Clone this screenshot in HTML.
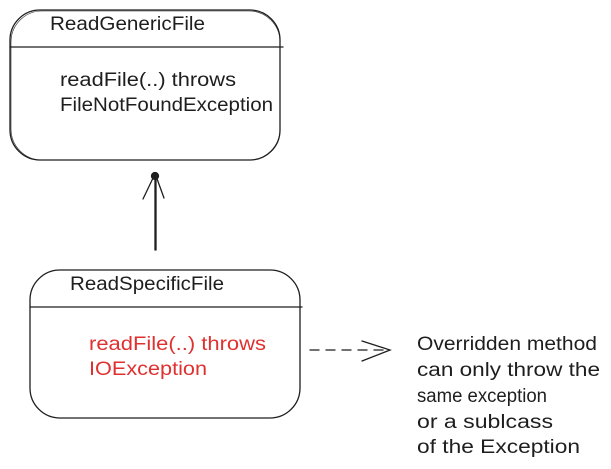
<!DOCTYPE html>
<html><head><meta charset="utf-8"><style>
html,body{margin:0;padding:0;background:#fff;width:611px;height:469px;overflow:hidden}
text{font-family:"Liberation Sans",sans-serif;font-size:19px;fill:#1e1e1e}
</style></head><body>
<svg width="611" height="469" viewBox="0 0 611 469" xmlns="http://www.w3.org/2000/svg">
<g fill="none" stroke="#1e1e1e" stroke-width="1.3" stroke-linecap="round">
<rect x="10" y="10" width="270" height="150" rx="30"/>
<rect x="11" y="11" width="269" height="149" rx="31" stroke-width="0.6"/>
<line x1="10" y1="47" x2="283" y2="47"/>
<rect x="30" y="270" width="270" height="148" rx="30"/>
<line x1="30" y1="307" x2="302" y2="307"/>
<line x1="155" y1="250" x2="155" y2="176"/>
<line x1="156" y1="250" x2="156" y2="176"/>
<path d="M143 199 L154 176 M164 198 L156 176"/>
<circle cx="155" cy="176" r="3.5" fill="#1e1e1e"/>
<line x1="310" y1="350" x2="388" y2="350" stroke-dasharray="9 7"/>
<path d="M362 341 L390 350 L362 361"/>
</g>
<text x="50" y="30" textLength="155" lengthAdjust="spacingAndGlyphs">ReadGenericFile</text>
<text x="60" y="86" textLength="176" lengthAdjust="spacingAndGlyphs">readFile(..) throws</text>
<text x="60" y="111" textLength="213" lengthAdjust="spacingAndGlyphs">FileNotFoundException</text>
<text x="70" y="290" textLength="154" lengthAdjust="spacingAndGlyphs">ReadSpecificFile</text>
<text x="89" y="350" textLength="177" lengthAdjust="spacingAndGlyphs" style="fill:#e03131">readFile(..) throws</text>
<text x="89" y="375" textLength="118" lengthAdjust="spacingAndGlyphs" style="fill:#e03131">IOException</text>
<text x="417" y="350" textLength="180" lengthAdjust="spacingAndGlyphs">Overridden method</text>
<text x="417" y="376" textLength="183" lengthAdjust="spacingAndGlyphs">can only throw the</text>
<text x="417" y="402" textLength="130" lengthAdjust="spacingAndGlyphs">same exception</text>
<text x="417" y="428" textLength="136" lengthAdjust="spacingAndGlyphs">or a sublcass</text>
<text x="417" y="453" textLength="163" lengthAdjust="spacingAndGlyphs">of the Exception</text>
</svg>
</body></html>
